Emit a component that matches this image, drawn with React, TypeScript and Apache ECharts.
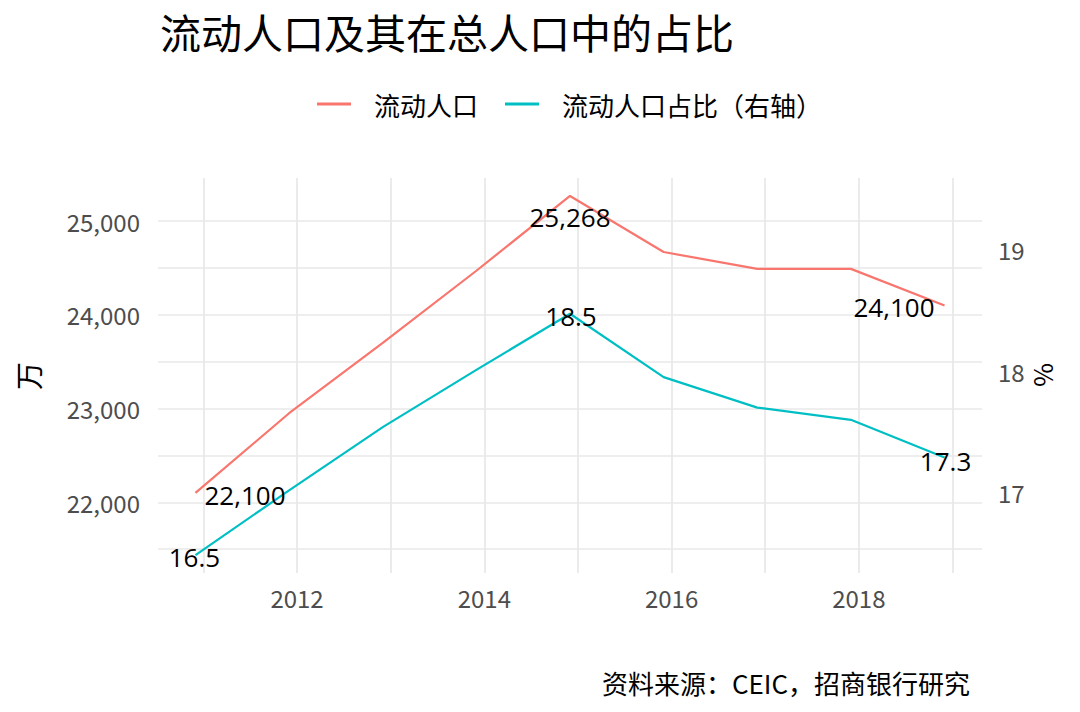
import React, { useEffect, useRef } from "react";
import * as echarts from "echarts";

const TITLE = "流动人口及其在总人口中的占比";
const SOURCE = "资料来源：CEIC，招商银行研究";
const LEFT_NAME = "万";
const RIGHT_NAME = "%";
const SERIES_NAMES = ["流动人口", "流动人口占比（右轴）"];
const COLORS = ["#F8766D", "#00BFC4"];

const DATES = [
  "2010-12-01",
  "2011-12-01",
  "2012-12-01",
  "2013-12-01",
  "2014-12-01",
  "2015-12-01",
  "2016-12-01",
  "2017-12-01",
  "2018-12-01",
];
const POPULATION = [22100, 22950, 23700, 24470, 25268, 24670, 24490, 24490, 24100];
const SHARE = [16.49, 17.02, 17.54, 18.01, 18.47, 17.95, 17.7, 17.6, 17.29];

const X_LABEL_YEARS = [2012, 2014, 2016, 2018];
const X_GRID_YEARS = [2011, 2012, 2013, 2014, 2015, 2016, 2017, 2018, 2019];
const LEFT_TICKS = [22000, 23000, 24000, 25000];
const LEFT_GRID = [21500, 22000, 22500, 23000, 23500, 24000, 24500, 25000];
const RIGHT_TICKS = [17, 18, 19];
const SEC_AXIS_FACTOR = 1300; // left value = right value * factor
const LABELED = [0, 4, 8];

const FONT = "Noto Sans CJK SC";
const LABEL_FONT = "Open Sans";

// date string -> fractional year (continuous date scale)
function toYearFrac(s: string): number {
  const [y, m, d] = s.split("-").map(Number);
  const start = Date.UTC(y, 0, 1);
  const end = Date.UTC(y + 1, 0, 1);
  return y + (Date.UTC(y, m - 1, d) - start) / (end - start);
}

export default function App() {
  const ref = useRef<HTMLDivElement>(null);

  useEffect(() => {
    if (!ref.current) return;
    const chart = echarts.init(ref.current, undefined, { renderer: "svg" });

    const xs = DATES.map(toYearFrac);
    const xSpan = xs[xs.length - 1] - xs[0];
    const xMin = xs[0] - 0.05 * xSpan;
    const xMax = xs[xs.length - 1] + 0.05 * xSpan;

    const allLeft = POPULATION.concat(SHARE.map((v) => v * SEC_AXIS_FACTOR));
    const dMin = Math.min(...allLeft);
    const dMax = Math.max(...allLeft);
    const ySpan = dMax - dMin;
    const yMin = dMin - 0.05 * ySpan;
    const yMax = dMax + 0.05 * ySpan;

    const popLabelCfg: Record<number, any> = {
      0: { align: "left", offset: [9, 2] },
      4: { align: "center", offset: [0, 21] },
      8: { align: "right", offset: [-10, 2] },
    };
    const shareLabelCfg: Record<number, any> = {
      0: { align: "center", offset: [-1, 2] },
      4: { align: "center", offset: [1, 2] },
      8: { align: "center", offset: [1, 3] },
    };

    const labelBase = {
      show: true,
      position: "inside",
      color: "#000",
      fontSize: 26,
      fontFamily: LABEL_FONT,
      verticalAlign: "middle",
    };

    const popData = POPULATION.map((v, i) => {
      const item: any = { value: [xs[i], v] };
      if (LABELED.includes(i)) {
        item.label = {
          ...labelBase,
          ...popLabelCfg[i],
          formatter: () => v.toLocaleString("en-US"),
        };
      }
      return item;
    });
    const shareData = SHARE.map((v, i) => {
      const item: any = { value: [xs[i], v] };
      if (LABELED.includes(i)) {
        item.label = {
          ...labelBase,
          ...shareLabelCfg[i],
          formatter: () => v.toFixed(1),
        };
      }
      return item;
    });

    const axisLabelStyle = {
      color: "#4D4D4D",
      fontSize: 24,
      fontFamily: FONT,
    };
    const gridLine = { color: "#E8E8E8", width: 1.7 };

    chart.setOption({
      animation: false,
      backgroundColor: "#fff",
      title: {
        text: TITLE,
        left: 160,
        top: 10,
        padding: 0,
        textStyle: {
          fontSize: 41,
          fontWeight: "normal",
          fontFamily: FONT,
          color: "#000",
        },
      },
      legend: {
        left: 317,
        top: 91,
        padding: 0,
        icon: "rect",
        itemWidth: 34,
        itemHeight: 3,
        itemGap: 27,
        data: SERIES_NAMES,
        textStyle: {
          fontSize: 26,
          fontFamily: FONT,
          color: "#000",
          padding: [0, 0, 0, 18],
        },
      },
      grid: { left: 158, right: 98, top: 178, bottom: 139 },
      xAxis: {
        type: "value",
        min: xMin,
        max: xMax,
        axisLine: { show: false },
        axisTick: { show: false, customValues: X_GRID_YEARS },
        axisLabel: {
          ...axisLabelStyle,
          margin: 12,
          customValues: X_LABEL_YEARS,
          formatter: (val: number) => String(Math.round(val)),
        },
        splitLine: { show: true, lineStyle: gridLine },
      },
      yAxis: [
        {
          type: "value",
          min: yMin,
          max: yMax,
          axisLine: { show: false },
          axisTick: { show: false, customValues: LEFT_GRID },
          axisLabel: {
            ...axisLabelStyle,
            margin: 18,
            customValues: LEFT_TICKS,
            formatter: (val: number) => val.toLocaleString("en-US"),
          },
          splitLine: { show: true, lineStyle: gridLine },
        },
        {
          type: "value",
          position: "right",
          min: yMin / SEC_AXIS_FACTOR,
          max: yMax / SEC_AXIS_FACTOR,
          axisLine: { show: false },
          axisTick: { show: false, customValues: RIGHT_TICKS },
          axisLabel: {
            ...axisLabelStyle,
            margin: 16,
            customValues: RIGHT_TICKS,
            formatter: (val: number) => String(Math.round(val)),
          },
          splitLine: { show: false },
        },
      ],
      series: [
        {
          name: SERIES_NAMES[0],
          type: "line",
          yAxisIndex: 0,
          data: popData,
          symbol: "circle",
          symbolSize: 0,
          showSymbol: true,
          color: COLORS[0],
          lineStyle: { color: COLORS[0], width: 2.2 },
          itemStyle: { color: COLORS[0] },
          z: 3,
        },
        {
          name: SERIES_NAMES[1],
          type: "line",
          yAxisIndex: 1,
          data: shareData,
          symbol: "circle",
          symbolSize: 0,
          showSymbol: true,
          color: COLORS[1],
          lineStyle: { color: COLORS[1], width: 2.2 },
          itemStyle: { color: COLORS[1] },
          z: 3,
        },
      ],
      graphic: [
        {
          type: "text",
          x: 28,
          y: 376,
          rotation: Math.PI / 2,
          style: {
            text: LEFT_NAME,
            fontSize: 28,
            fontFamily: FONT,
            fill: "#000",
            align: "center",
            verticalAlign: "middle",
          },
        },
        {
          type: "text",
          x: 1045,
          y: 375,
          rotation: -Math.PI / 2,
          style: {
            text: RIGHT_NAME,
            fontSize: 26,
            fontFamily: FONT,
            fill: "#000",
            align: "center",
            verticalAlign: "middle",
          },
        },
        {
          type: "text",
          x: 970,
          y: 682,
          style: {
            text: SOURCE,
            fontSize: 26,
            fontFamily: FONT,
            fill: "#000",
            align: "right",
            verticalAlign: "middle",
          },
        },
      ],
    });

    return () => chart.dispose();
  }, []);

  return (
    <div
      ref={ref}
      style={{ position: "absolute", left: 0, top: 0, width: 1080, height: 712 }}
    />
  );
}
